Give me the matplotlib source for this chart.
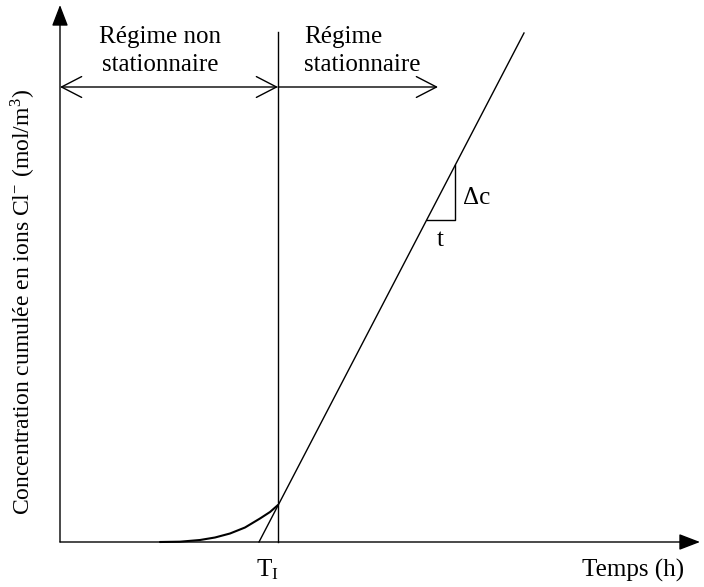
import matplotlib
matplotlib.use("Agg")
import matplotlib.pyplot as plt

plt.rcParams['font.family'] = ['Liberation Serif', 'DejaVu Serif']
plt.rcParams['mathtext.fontset'] = 'stix'

# Schematic data (arbitrary units)
curve_time = [10.0, 12.0, 14.0, 15.5, 17.0, 18.5, 20.0, 21.0, 21.8]
curve_conc = [0.0, 0.03, 0.2, 0.45, 0.85, 1.45, 2.35, 3.0, 3.7]
line_time = [19.9, 46.4]
line_conc = [0.0, 50.9]
t_transition = 21.8
transition_top = 51.0
regime_arrow_y = 45.5
stationary_arrow_end = 37.8
tri_t = [36.7, 39.5]
tri_c = [32.2, 37.7]
x_max = 64.0
y_max = 53.7

fig = plt.figure(figsize=(7.04, 5.87), dpi=100)
ax = fig.add_axes([0, 0, 1, 1])
ax.set_xlim(-6.0, 64.4)
ax.set_ylim(-4.5, 54.2)
ax.axis('off')

k = dict(color='black', lw=1.0)
# axes with filled arrowheads
ax.annotate('', xy=(x_max, 0), xytext=(0, 0),
            arrowprops=dict(arrowstyle='-|>,head_length=1.3,head_width=0.5', color='black', lw=1.0, shrinkA=0, shrinkB=0))
ax.annotate('', xy=(0, y_max), xytext=(0, 0),
            arrowprops=dict(arrowstyle='-|>,head_length=1.3,head_width=0.5', color='black', lw=1.0, shrinkA=0, shrinkB=0))

# curve and line
ax.plot(curve_time, curve_conc, lw=1.5, color='black', solid_capstyle='round')
ax.plot(line_time, line_conc, **k)
ax.plot([t_transition, t_transition], [0, transition_top], **k)

# regime arrows
ax.annotate('', xy=(0, regime_arrow_y), xytext=(t_transition, regime_arrow_y),
            arrowprops=dict(arrowstyle='<->,head_length=1.45,head_width=0.75', color='black', lw=1.0, shrinkA=0, shrinkB=0))
ax.annotate('', xy=(stationary_arrow_end, regime_arrow_y), xytext=(t_transition, regime_arrow_y),
            arrowprops=dict(arrowstyle='->,head_length=1.45,head_width=0.75', color='black', lw=1.0, shrinkA=0, shrinkB=0))

# slope triangle
ax.plot([tri_t[0], tri_t[1], tri_t[1]], [tri_c[0], tri_c[0], tri_c[1]], **k)

fs = 18
ax.text(10.0, 49.1, 'Régime non\nstationnaire', ha='center', va='center', fontsize=fs, linespacing=1.35)
ax.text(24.4, 49.1, 'Régime\nstationnaire', ha='left', va='center', fontsize=fs, linespacing=1.35)
ax.text(40.3, 34.4, 'Δc', ha='left', va='center', fontsize=fs)
ax.text(38.0, 30.2, 't', ha='center', va='center', fontsize=fs)
ax.text(20.7, -2.8, 'T$_\\mathregular{I}$', ha='center', va='center', fontsize=fs)
ax.text(57.3, -2.8, 'Temps (h)', ha='center', va='center', fontsize=fs)
ax.text(-3.7, 24.0, 'Concentration cumulée en ions Cl$^{\\mathregular{-}}$ (mol/m$^{\\mathregular{3}}$)',
        ha='center', va='center', rotation=90, fontsize=17)

fig.savefig('out.png', dpi=100)
